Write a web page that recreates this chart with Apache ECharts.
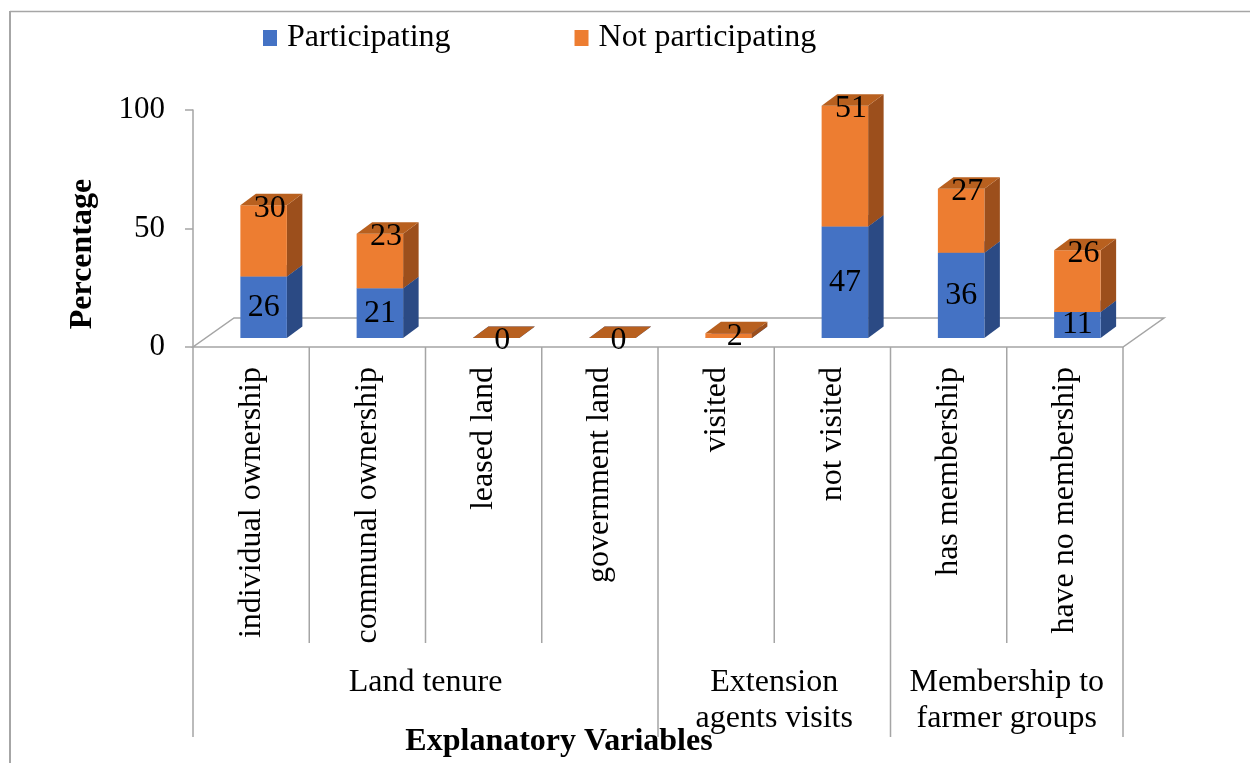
<!DOCTYPE html>
<html>
<head>
<meta charset="utf-8">
<style>
  html, body { margin: 0; padding: 0; background: #fff; }
  #chart { width: 1250px; height: 763px; }
</style>
<script src="https://cdn.jsdelivr.net/npm/echarts@6/dist/echarts.min.js"></script>
</head>
<body>
<div id="chart"></div>
<script>
// Categories and values (percent of respondents)
const categories = [
  'individual ownership', 'communal ownership', 'leased land', 'government land',
  'visited', 'not visited', 'has membership', 'have no membership'
];
const participating    = [26, 21, 0, 0, 0, 47, 36, 11];
const notParticipating = [30, 23, 0, 0, 2, 51, 27, 26];
const seriesNames = ['Participating', 'Not participating'];

// Grouping of the categories along the x axis
const groupLabels = ['Land tenure', 'Extension\nagents visits', 'Membership to\nfarmer groups'];
const groupSizes  = [4, 2, 2];

// Value axis
const yMin = 0, yMax = 100, yInterval = 50;

// ---- styling ----
const FONT = 'Liberation Serif, Times New Roman, serif';
const GRID_COLOR = '#a5a5a5';
const BAR_RATIO = 0.4;           // bar width / category width
const BAR_SHIFT = [12.5, -9];    // bar plane offset from the front plane
const BAR_DEPTH = [15.5, -11.5]; // visible depth of each column
const FLOOR_DEPTH = [41, -29];   // depth of the floor
const TICK_DIVIDER = 296;        // length of category separators
const GROUP_DIVIDER = 390;       // length of group separators

const palette = {
  blue:   { front: '#4472C4', side: '#2B4A84', top: '#3A62AD' },
  orange: { front: '#ED7D31', side: '#9C4F1C', top: '#B8601F' }
};

function barData(lower, values) {
  return values.map((v, i) => [i, lower[i], lower[i] + v, v]);
}
const zeros = categories.map(() => 0);

function barRenderer(colors, labelAtTop) {
  return function (params, api) {
    const i = api.value(0), lo = api.value(1), hi = api.value(2), v = api.value(3);
    const band = api.size([1, 0])[0];
    const w = band * BAR_RATIO;
    const c = api.coord([i, 0]);
    const pLo = api.coord([i, lo]);
    const pHi = api.coord([i, hi]);
    const x0 = c[0] - w / 2 + BAR_SHIFT[0];
    const x1 = x0 + w;
    const yb = pLo[1] + BAR_SHIFT[1];
    const yt = pHi[1] + BAR_SHIFT[1];
    const dx = BAR_DEPTH[0], dy = BAR_DEPTH[1];
    const children = [
      { type: 'polygon', shape: { points: [[x1, yb], [x1 + dx, yb + dy], [x1 + dx, yt + dy], [x1, yt]] },
        style: { fill: colors.side } },
      { type: 'rect', shape: { x: x0, y: yt, width: w, height: yb - yt },
        style: { fill: colors.front } },
      { type: 'polygon', shape: { points: [[x0, yt], [x1, yt], [x1 + dx, yt + dy], [x0 + dx, yt + dy]] },
        style: { fill: colors.top } }
    ];
    if (labelAtTop || v !== 0) {
      children.push({
        type: 'text', z2: 100,
        style: {
          text: String(v),
          x: labelAtTop ? (x0 + x1) / 2 + 6 : (x0 + x1) / 2,
          y: labelAtTop ? yt + 3 : (yb + yt) / 2,
          align: 'center', verticalAlign: 'middle',
          font: '32px ' + FONT, fill: '#000'
        }
      });
    }
    return { type: 'group', children: children };
  };
}

// Floor of the 3D plot area
function floorRenderer(params, api) {
  const band = api.size([1, 0])[0];
  const l = api.coord([api.value(0), 0])[0] - band / 2;
  const r = api.coord([api.value(1), 0])[0] + band / 2;
  const y = api.coord([0, 0])[1];
  const dx = FLOOR_DEPTH[0], dy = FLOOR_DEPTH[1];
  return {
    type: 'polygon',
    shape: { points: [[l, y], [r, y], [r + dx, y + dy], [l + dx, y + dy]] },
    style: { fill: '#fff', stroke: GRID_COLOR, lineWidth: 1.5 }
  };
}

// Category separators, group separators and group titles
function groupRenderer(params, api) {
  const start = api.value(0), end = api.value(1);
  const band = api.size([1, 0])[0];
  const y = api.coord([0, 0])[1];
  const l = api.coord([start, 0])[0] - band / 2;
  const r = api.coord([end, 0])[0] + band / 2;
  const line = (x, len) => ({
    type: 'line', shape: { x1: x, y1: y, x2: x, y2: y + len },
    style: { stroke: GRID_COLOR, lineWidth: 1.5 }
  });
  const children = [];
  if (start === 0) children.push(line(l, GROUP_DIVIDER));
  children.push(line(r, GROUP_DIVIDER));
  for (let k = start + 1; k <= end; k++) {
    children.push(line(api.coord([k, 0])[0] - band / 2, TICK_DIVIDER));
  }
  children.push({
    type: 'text',
    style: {
      text: groupLabels[params.dataIndex],
      x: (l + r) / 2, y: y + 318,
      align: 'center', verticalAlign: 'top', lineHeight: 36,
      font: '32px ' + FONT, fill: '#000'
    }
  });
  return { type: 'group', children: children };
}

const groupRanges = [];
groupSizes.reduce((s, n) => { groupRanges.push([s, s + n - 1]); return s + n; }, 0);

const chart = echarts.init(document.getElementById('chart'), null, { renderer: 'canvas' });
chart.setOption({
  animation: false,
  backgroundColor: '#fff',
  textStyle: { fontFamily: FONT },
  legend: {
    data: seriesNames,
    left: 263, top: 22, padding: 0,
    icon: 'rect', itemWidth: 14, itemHeight: 16, itemGap: 124,
    textStyle: { fontSize: 32, fontFamily: FONT, color: '#000', padding: [0, 0, 0, 5] }
  },
  grid: { left: 193, top: 110, width: 930, height: 237, containLabel: false },
  xAxis: {
    type: 'category', data: categories,
    axisLine: { show: false }, axisTick: { show: false },
    axisLabel: { rotate: 90, interval: 0, margin: 20, fontSize: 32, fontFamily: FONT, color: '#000' },
    splitLine: { show: false }
  },
  yAxis: {
    type: 'value', min: yMin, max: yMax, interval: yInterval,
    axisLine: { show: true, lineStyle: { color: GRID_COLOR, width: 1.5 } },
    axisTick: { show: true, length: 8, lineStyle: { color: GRID_COLOR, width: 1.5 } },
    axisLabel: { margin: 28, fontSize: 31, fontFamily: FONT, color: '#000' },
    splitLine: { show: false }
  },
  graphic: [
    { type: 'line', shape: { x1: 10, y1: 11, x2: 10, y2: 763 }, style: { stroke: '#a6a6a6', lineWidth: 2 } },
    { type: 'line', shape: { x1: 10, y1: 11.5, x2: 1250, y2: 11.5 }, style: { stroke: '#a6a6a6', lineWidth: 1.5 } },
    { type: 'text', x: 83, y: 254, rotation: Math.PI / 2,
      style: { text: 'Percentage', font: 'bold 32px ' + FONT, fill: '#000', align: 'center', verticalAlign: 'middle' } },
    { type: 'text', x: 559, y: 742, z: 100,
      style: { text: 'Explanatory Variables', font: 'bold 32px ' + FONT, fill: '#000', align: 'center', verticalAlign: 'middle' } }
  ],
  series: [
    { name: 'floor', type: 'custom', z: 1, silent: true,
      data: [[0, categories.length - 1]], encode: { x: 0 }, renderItem: floorRenderer },
    { name: 'groups', type: 'custom', z: 1, silent: true,
      data: groupRanges, encode: { x: 0 }, renderItem: groupRenderer },
    { name: seriesNames[0], type: 'custom', z: 3,
      itemStyle: { color: palette.blue.front },
      data: barData(zeros, participating), encode: { x: 0, y: 2 },
      renderItem: barRenderer(palette.blue, false) },
    { name: seriesNames[1], type: 'custom', z: 4,
      itemStyle: { color: palette.orange.front },
      data: barData(participating, notParticipating), encode: { x: 0, y: 2 },
      renderItem: barRenderer(palette.orange, true) }
  ]
});
</script>
</body>
</html>
